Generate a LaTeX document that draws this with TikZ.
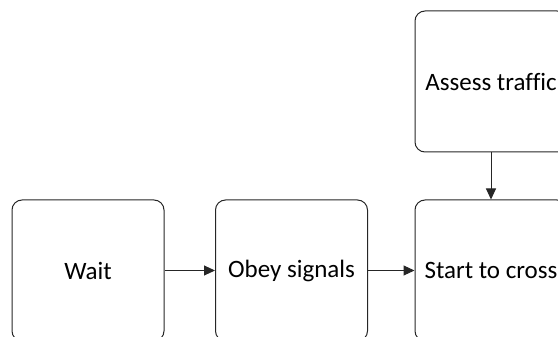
\documentclass[tikz,border=0pt]{standalone}
\usepackage{fontspec}
\setmainfont[Ligatures=NoCommon]{Carlito}
\usetikzlibrary{arrows.meta}
\begin{document}
\begin{tikzpicture}[x=1pt,y=-1pt,
  stepbox/.style={draw=black!85, line width=1pt, rounded corners=10pt,
    minimum width=152pt, minimum height=141pt, inner sep=0pt,
    font=\fontsize{25}{30}\selectfont},
  flow/.style={draw=black!85, line width=1pt,
    -{Triangle[length=11pt,width=10pt]}}]
  \useasboundingbox (0,0) rectangle (558,337);
  \node[stepbox] (wait)   at (88,270.5)    {Wait};
  \node[stepbox] (obey)   at (291.5,270.5) {Obey signals};
  \node[stepbox] (cross)  at (491,270.5)   {Start to cross};
  \node[stepbox] (assess) at (491,81.5)    {Assess traffic};
  \draw[flow] (wait) -- (obey);
  \draw[flow] (obey) -- (cross);
  \draw[flow] (assess) -- (cross);
\end{tikzpicture}
\end{document}
